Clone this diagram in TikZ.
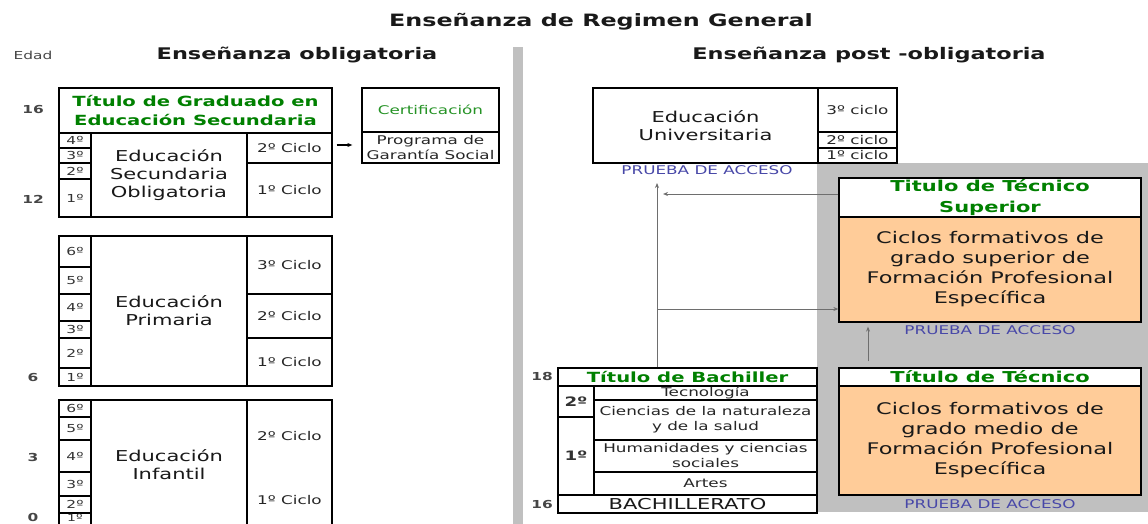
\documentclass[tikz,border=0pt]{standalone}
\usepackage{fontspec}
\setmainfont{DejaVu Sans}[FakeStretch=1.4]
\usetikzlibrary{arrows.meta}
\definecolor{tgreen}{RGB}{0,128,0}
\definecolor{pblue}{RGB}{72,72,168}
\definecolor{orng}{RGB}{255,204,153}
\definecolor{bgray}{RGB}{192,192,192}
\definecolor{agray}{RGB}{70,70,70}
\definecolor{cgray}{RGB}{110,110,110}
\newcommand\fsz[2]{\fontsize{#1}{#2}\selectfont}
\begin{document}
\begin{tikzpicture}[x=1pt,y=-1pt,
 sz/.style n args={2}{minimum width=#1pt,minimum height=#2pt},
 cell/.style={draw=black, line width=1.3pt, inner sep=0pt, align=center},
 lbl/.style={inner sep=0pt, align=center},
 yr/.style={cell, font=\fsz{11}{13}, text=black!80},
 cic/.style={cell, font=\fsz{12}{14}, text=black!85},
 cicl/.style={lbl, font=\fsz{12}{14}, text=black!85},
 big/.style={font=\fsz{15}{18}, text=black!90},
 ttl/.style={font=\bfseries\fsz{14}{19}, text=tgreen},
 age/.style={lbl, font=\bfseries\fsz{11}{13}, text=agray},
 prueba/.style={lbl, font=\fsz{12}{14}, text=pblue},
 head/.style={lbl, font=\bfseries\fsz{16}{18}, text=black!90},
 conn/.style={draw=cgray, line width=1pt},
 tip/.style={-{Stealth[length=5pt,width=4pt]}}
]
\useasboundingbox (0,0) rectangle (1148,524);
\fill[white] (0,0) rectangle (1148,524);

% titles
\node[lbl, font=\bfseries\fsz{17}{19}, text=black!90] (title) at (601,22) {Enseñanza de Regimen General};
\node[lbl, font=\fsz{11}{13}, text=agray] (edad) at (33,55) {Edad};
\node[head] (hobl) at (297,55) {Enseñanza obligatoria};
\node[head] (hpost) at (869,55) {Enseñanza post -obligatoria};

% gray bar and gray region
\fill[bgray] (513,47) rectangle (523,524);
\fill[bgray] (817,163) rectangle (1148,512);

% ---------- ESO ----------
\node[cell, ttl, sz={273}{45}] (esoT) at (195.5,110.5) {Título de Graduado en\\Educación Secundaria};
\node[yr, sz={32}{15}] (e4) at (75,140.5) {4º};
\node[yr, sz={32}{15}] (e3) at (75,155.5) {3º};
\node[yr, sz={32}{16}] (e2) at (75,171) {2º};
\node[yr, sz={32}{38}] (e1) at (75,198) {1º};
\node[cell, big, sz={156}{84}] (esoM) at (169,175) {Educación\\Secundaria\\Obligatoria};
\node[cic, sz={85}{30}] (esoC2) at (289.5,148) {2º Ciclo};
\node[cic, sz={85}{54}] (esoC1) at (289.5,190) {1º Ciclo};
\node[age] (a16) at (33,110) {16};
\node[age] (a12) at (33,199) {12};

\node[cell, sz={137}{44}, font=\fsz{12}{14}, text=tgreen!85!white] (cert) at (430.5,110) {Certificación};
\node[cell, sz={137}{31}, font=\fsz{12}{15}, text=black!85] (prog) at (430.5,147.5) {Programa de\\Garantía Social};
\draw[conn, draw=black, tip, shorten <=4pt, shorten >=9pt] ([yshift=3pt]esoC2.east) -- ([yshift=2.5pt]prog.west);

% ---------- Primaria ----------
\node[yr, sz={32}{31}] (p6) at (75,251.5) {6º};
\node[yr, sz={32}{27}] (p5) at (75,280.5) {5º};
\node[yr, sz={32}{27}] (p4) at (75,307.5) {4º};
\node[yr, sz={32}{17}] (p3) at (75,329.5) {3º};
\node[yr, sz={32}{30}] (p2) at (75,353) {2º};
\node[yr, sz={32}{18}] (p1) at (75,377) {1º};
\node[cell, big, sz={156}{150}] (primM) at (169,311) {Educación\\Primaria};
\node[cic, sz={85}{58}] (pc3) at (289.5,265) {3º Ciclo};
\node[cic, sz={85}{44}] (pc2) at (289.5,316) {2º Ciclo};
\node[cic, sz={85}{48}] (pc1) at (289.5,362) {1º Ciclo};
\node[age] (a6) at (33,377) {6};

% ---------- Infantil ----------
\node[yr, sz={32}{17}] (i6) at (75,408.5) {6º};
\node[yr, sz={32}{23}] (i5) at (75,428.5) {5º};
\node[yr, sz={32}{32}] (i4) at (75,456) {4º};
\node[yr, sz={32}{24}] (i3) at (75,484) {3º};
\node[yr, sz={32}{17}] (i2) at (75,504.5) {2º};
\draw[line width=1.3pt] (59,513) rectangle (91,530);
\node[lbl, font=\fsz{10}{11}, text=black!80] (i1) at (75,518) {1º};
\node[cell, sz={156}{140}] (infM) at (169,470) {};
\node[lbl, big] (infT) at (169,465) {Educación\\Infantil};
\node[cell, sz={85}{140}] (infC) at (289.5,470) {};
\node[cicl] (ic2) at (289.5,436) {2º Ciclo};
\node[cicl] (ic1) at (289.5,500) {1º Ciclo};
\node[age] (a3) at (33,457) {3};
\node[age] (a0) at (33,517) {0};

% ---------- Universidad ----------
\node[cell, big, sz={225}{75}] (univ) at (705.5,125.5) {Educación\\Universitaria};
\node[cic, sz={79}{44}] (u3) at (857.5,110) {3º ciclo};
\node[cic, sz={79}{16}] (u2) at (857.5,140) {2º ciclo};
\node[cic, sz={79}{15}] (u1) at (857.5,155.5) {1º ciclo};
\node[prueba] (pr1) at (707,170) {PRUEBA DE ACCESO};

% ---------- Tecnico superior ----------
\node[cell, fill=white, sz={302}{39}, font=\bfseries\fsz{15}{21}, text=tgreen] (tsT) at (990,197.5) {Titulo de Técnico\\Superior};
\node[cell, fill=orng, sz={302}{105}, font=\fsz{16}{20}, text=black!90] (tsB) at (990,269.5) {Ciclos formativos de\\grado superior de\\Formación Profesional\\Específica};
\node[prueba] (pr2) at (990,330) {PRUEBA DE ACCESO};

% ---------- Tecnico ----------
\node[cell, fill=white, sz={302}{18}, font=\bfseries\fsz{15}{17}, text=tgreen] (tmT) at (990,377) {Título de Técnico};
\node[cell, fill=orng, sz={302}{109}, font=\fsz{16}{20}, text=black!90] (tmB) at (990,440.5) {Ciclos formativos de\\grado medio de\\Formación Profesional\\Específica};
\node[prueba] (pr3) at (990,504) {PRUEBA DE ACCESO};

% ---------- Bachillerato ----------
\node[cell, fill=white, sz={259}{18}, font=\bfseries\fsz{14}{16}, text=tgreen] (bachT) at (687.5,377) {Título de Bachiller};
\node[cell, fill=white, sz={36}{31}, font=\bfseries\fsz{13}{15}, text=black!80] (b2) at (576,401.5) {2º};
\node[cell, fill=white, sz={36}{78}, font=\bfseries\fsz{13}{15}, text=black!80] (b1) at (576,456) {1º};
\node[cic, fill=white, sz={223}{14}] (bTec) at (705.5,393) {Tecnología};
\node[cic, fill=white, sz={223}{40}, font=\fsz{12}{15}] (bCie) at (705.5,420) {Ciencias de la naturaleza\\y de la salud};
\node[cic, fill=white, sz={223}{32}, font=\fsz{12}{15}] (bHum) at (705.5,456) {Humanidades y ciencias\\sociales};
\node[cic, fill=white, sz={223}{23}] (bArt) at (705.5,483.5) {Artes};
\node[cell, fill=white, sz={259}{18}, font=\fsz{15}{17}, text=black!90] (bBach) at (687.5,504) {BACHILLERATO};
\node[age] (a18) at (542,376) {18};
\node[age] (a16b) at (542,504) {16};

% ---------- connectors ----------
\coordinate (vtop) at (657,183);
\coordinate (vj1) at (663,194);
\coordinate (vj2) at (657,309);
\draw[conn, tip] ([xshift=-30.5pt]bachT.north) -- (vtop);
\draw[conn, tip] ([yshift=3.5pt]tsT.west) -- (vj1);
\draw[conn, tip] (vj2) -- ([yshift=-39.5pt]tsB.west);
\draw[conn, tip, shorten <=6pt, shorten >=4pt] ([xshift=-122pt]tmT.north) -- ([xshift=-122pt]tsB.south);
\end{tikzpicture}
\end{document}
